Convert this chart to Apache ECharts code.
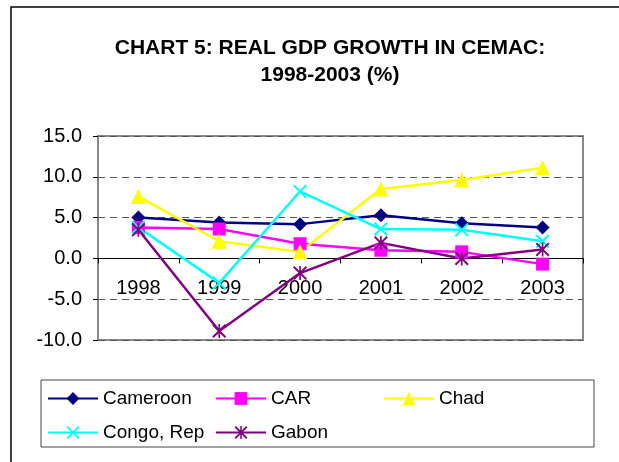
<!DOCTYPE html>
<html>
<head>
<meta charset="utf-8">
<script src="https://cdn.jsdelivr.net/npm/echarts@6/dist/echarts.min.js"></script>
<style>
  html, body { margin: 0; padding: 0; background: #fff; }
  #chartdiv { width: 619px; height: 462px; }
</style>
</head>
<body>
<div id="chartdiv"></div>
<script>
var years = ['1998', '1999', '2000', '2001', '2002', '2003'];
var cameroon = [5.0, 4.4, 4.2, 5.3, 4.3, 3.8];
var car = [3.8, 3.6, 1.8, 1.0, 0.8, -0.7];
var chad = [7.6, 2.1, 0.8, 8.5, 9.6, 11.1];
var congo = [3.8, -3.0, 8.2, 3.6, 3.5, 2.1];
var gabon = [3.5, -8.9, -1.8, 1.9, 0.0, 1.1];
var yTicks = [-10, -5, 0, 5, 10, 15];

var crossPath = 'path://M0,1L1,0L5,4L9,0L10,1L6,5L10,9L9,10L5,6L1,10L0,9L4,5Z';
var starPath = 'path://M0,1L1,0L5,4L9,0L10,1L6,5L10,9L9,10L5,6L1,10L0,9L4,5Z M4.4,0L5.6,0L5.6,10L4.4,10Z';

function chart5() {
  if (document.getElementById('chartdiv') == null) {
    return;
  }
  var myChart = echarts.init(document.getElementById('chartdiv'));
  var font = 'Liberation Sans, Arial, sans-serif';

  // plot area in pixels
  var gTop = 136, gBottom = 340;
  // x axis sits on the zero line
  var zeroY = gTop + (gBottom - gTop) * (yTicks[yTicks.length - 1] - 0) / (yTicks[yTicks.length - 1] - yTicks[0]);

  function line(name, data, color, symbol, size) {
    return {
      name: name,
      type: 'line',
      data: data,
      symbol: symbol,
      symbolSize: size,
      showAllSymbol: true,
      lineStyle: { color: color, width: 2.5 },
      itemStyle: { color: color },
      emphasis: { disabled: true }
    };
  }

  function legendCol(left, names) {
    return {
      data: names,
      orient: 'vertical',
      left: left,
      top: 389,
      padding: 0,
      itemWidth: 50,
      itemHeight: 16,
      itemGap: 15,
      textStyle: { fontFamily: font, fontSize: 19, color: '#000' }
    };
  }

  var option = {
    animation: false,
    backgroundColor: '#fff',
    textStyle: { fontFamily: font },
    graphic: [{
      type: 'rect',
      shape: { x: 11, y: 7, width: 700, height: 500 },
      style: { fill: 'none', stroke: '#000', lineWidth: 1.5 },
      silent: true,
      z: -1
    }, {
      type: 'rect',
      shape: { x: 41, y: 380, width: 553, height: 67 },
      style: { fill: 'none', stroke: '#444', lineWidth: 1 },
      silent: true,
      z: -1
    }],
    title: {
      text: 'CHART 5: REAL GDP GROWTH IN CEMAC:\n1998-2003 (%)',
      left: 325,
      top: 30,
      textAlign: 'center',
      textStyle: {
        fontFamily: font,
        fontSize: 21,
        fontWeight: 'bold',
        color: '#000',
        lineHeight: 27
      }
    },
    legend: [
      legendCol(47, ['Cameroon', 'Congo, Rep']),
      legendCol(215, ['CAR', 'Gabon']),
      legendCol(383, ['Chad'])
    ],
    grid: {
      left: 98,
      right: 36,
      top: gTop,
      bottom: 462 - gBottom,
      show: true,
      borderColor: '#888',
      borderWidth: 2
    },
    xAxis: {
      type: 'category',
      data: years,
      boundaryGap: true,
      offset: -(gBottom - zeroY),
      axisLine: { onZero: false, lineStyle: { color: '#000', width: 1 } },
      axisTick: { show: true, length: 5, lineStyle: { color: '#000' } },
      axisLabel: { fontFamily: font, fontSize: 20, color: '#000', margin: 20 },
      splitLine: { show: false }
    },
    yAxis: {
      type: 'value',
      min: yTicks[0],
      max: yTicks[yTicks.length - 1],
      interval: 5,
      axisLine: { show: true, lineStyle: { color: '#888', width: 2 } },
      axisTick: { show: true, length: 5, lineStyle: { color: '#000' } },
      axisLabel: {
        fontFamily: font, fontSize: 20, color: '#000', margin: 16,
        formatter: function (v) { return v.toFixed(1); }
      },
      splitLine: { show: true, lineStyle: { color: '#555', type: [7, 5], width: 1 } }
    },
    series: [
      line('Cameroon', cameroon, '#000080', 'diamond', 14),
      line('CAR', car, '#FF00FF', 'rect', 13),
      line('Chad', chad, '#FFFF00', 'triangle', 15),
      line('Congo, Rep', congo, '#00FFFF', crossPath, 14),
      line('Gabon', gabon, '#800080', starPath, 14)
    ]
  };
  myChart.setOption(option);
}
chart5();
</script>
</body>
</html>
